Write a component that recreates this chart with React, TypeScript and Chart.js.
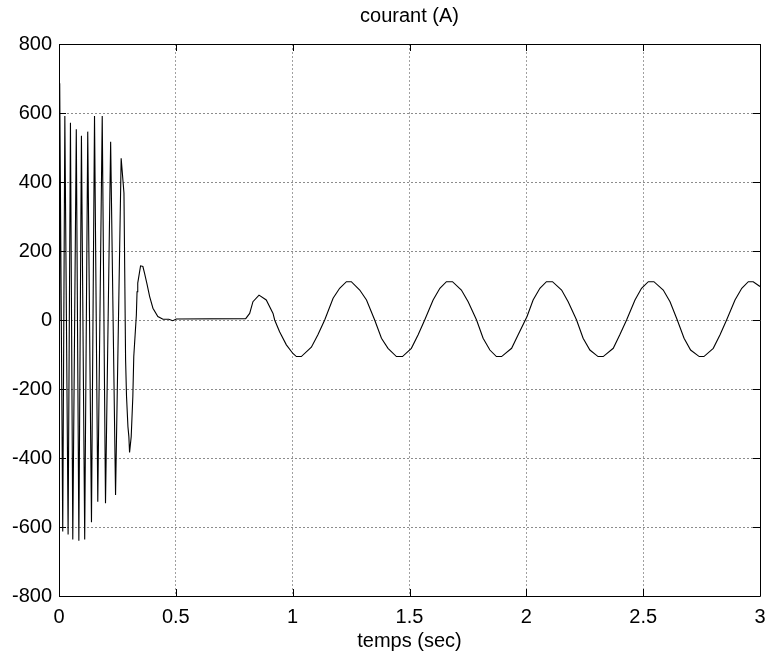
import React, { useEffect, useRef } from "react";
import { Chart, registerables } from "chart.js";

Chart.register(...registerables);

// time (s)
const timeValues: number[] = [
  0.000, 0.003, 0.016, 0.025, 0.039, 0.049, 0.059, 0.074, 0.085, 0.096,
  0.110, 0.123, 0.139, 0.152, 0.166, 0.185, 0.199, 0.221, 0.242, 0.266,
  0.278, 0.285, 0.289, 0.295, 0.299, 0.302, 0.309, 0.316, 0.320, 0.331,
  0.334, 0.337, 0.349, 0.359, 0.366, 0.376, 0.388, 0.402, 0.423, 0.445,
  0.470, 0.487, 0.502, 0.799, 0.816, 0.830, 0.856, 0.887, 0.916, 0.923,
  0.944, 0.973, 1.001, 1.016, 1.037, 1.080, 1.108, 1.137, 1.173, 1.201,
  1.230, 1.251, 1.287, 1.316, 1.351, 1.380, 1.408, 1.444, 1.470, 1.508,
  1.537, 1.565, 1.601, 1.630, 1.658, 1.684, 1.722, 1.751, 1.787, 1.815,
  1.844, 1.872, 1.894, 1.937, 1.965, 2.003, 2.029, 2.058, 2.086, 2.112,
  2.151, 2.179, 2.215, 2.243, 2.272, 2.307, 2.329, 2.372, 2.400, 2.429,
  2.465, 2.493, 2.522, 2.546, 2.586, 2.615, 2.646, 2.675, 2.703, 2.740,
  2.760, 2.800, 2.829, 2.857, 2.893, 2.922, 2.950, 2.971, 3.000,
];

// courant (A)
const currentValues: number[] = [
  0, 686, -613, 591, -622, 572, -636, 553, -640, 534,
  -636, 546, -586, 591, -527, 591, -531, 517, -507, 469,
  368, -116, -222, -309, -338, -384, -338, -222, -106, 14,
  82, 107, 157, 155, 136, 106, 68, 34, 10, 2,
  2, -2, 3, 4, 19, 53, 72, 58, 19, 0,
  -34, -72, -97, -106, -106, -79, -43, 0, 63, 92,
  111, 111, 87, 58, 0, -53, -82, -106, -106, -82,
  -43, 0, 58, 92, 111, 111, 87, 53, 0, -53,
  -87, -106, -106, -82, -43, 10, 58, 92, 111, 111,
  87, 53, 0, -53, -87, -106, -106, -82, -43, 0,
  58, 92, 111, 111, 87, 53, 0, -53, -87, -106,
  -106, -82, -43, 0, 58, 92, 111, 111, 97,
];

const xTicks: number[] = [0, 0.5, 1, 1.5, 2, 2.5, 3];
const yTicks: number[] = [-800, -600, -400, -200, 0, 200, 400, 600, 800];

const chartTitle = "courant (A)";
const xTitle = "temps (sec)";

const FONT = '"Liberation Sans", Arial, Helvetica, sans-serif';

const framePlugin = {
  id: "matlabFrame",
  afterDraw(chart: any) {
    const { ctx, chartArea: a, scales } = chart;
    const xs = scales.x;
    const ys = scales.y;
    ctx.save();
    ctx.strokeStyle = "#000";
    ctx.lineWidth = 1;
    ctx.beginPath();
    ctx.rect(Math.round(a.left) + 0.5, Math.round(a.top) + 0.5,
      Math.round(a.right) - Math.round(a.left), Math.round(a.bottom) - Math.round(a.top));
    ctx.stroke();
    const tl = 7;
    ctx.beginPath();
    xTicks.forEach((v) => {
      const px = Math.round(xs.getPixelForValue(v)) + 0.5;
      ctx.moveTo(px, a.bottom);
      ctx.lineTo(px, a.bottom - tl);
      ctx.moveTo(px, a.top);
      ctx.lineTo(px, a.top + tl);
    });
    yTicks.forEach((v) => {
      const py = Math.round(ys.getPixelForValue(v)) + 0.5;
      ctx.moveTo(a.left, py);
      ctx.lineTo(a.left + tl, py);
      ctx.moveTo(a.right, py);
      ctx.lineTo(a.right - tl, py);
    });
    ctx.stroke();
    ctx.fillStyle = "#000";
    ctx.font = `20px ${FONT}`;
    ctx.textAlign = "center";
    ctx.textBaseline = "middle";
    const cx = (a.left + a.right) / 2;
    ctx.fillText(chartTitle, cx, 16);
    ctx.fillText(xTitle, cx, 641);
    ctx.restore();
  },
};

export default function App() {
  const canvasRef = useRef<HTMLCanvasElement | null>(null);

  useEffect(() => {
    document.body.style.margin = "0";
    const canvas = canvasRef.current;
    if (!canvas) return;
    const points = timeValues.map((t, i) => ({ x: t, y: currentValues[i] }));
    const chart = new Chart(canvas, {
      type: "line",
      data: {
        datasets: [
          {
            data: points,
            borderColor: "#000",
            borderWidth: 1.1,
            pointRadius: 0,
            tension: 0,
            fill: false,
          },
        ],
      },
      options: {
        animation: false,
        responsive: false,
        devicePixelRatio: 1,
        layout: { padding: { top: 44, right: 9, left: 0, bottom: 0 } },
        plugins: {
          legend: { display: false },
          title: { display: false },
          tooltip: { enabled: false },
        },
        scales: {
          x: {
            type: "linear",
            min: 0,
            max: 3,
            afterBuildTicks: (scale: any) => {
              scale.ticks = xTicks.map((v) => ({ value: v }));
            },
            afterFit: (scale: any) => {
              scale.height = 63;
              scale.paddingLeft = 0;
              scale.paddingRight = 0;
            },
            ticks: {
              color: "#000",
              font: { family: FONT, size: 20 },
              padding: 9,
              maxRotation: 0,
              autoSkip: false,
              callback: (v: any) => String(v),
            },
            grid: {
              color: "#a0a0a0",
              lineWidth: 1,
              drawTicks: false,
            },
            border: { display: false, dash: [2, 2] },
          },
          y: {
            type: "linear",
            min: -800,
            max: 800,
            afterBuildTicks: (scale: any) => {
              scale.ticks = yTicks.map((v) => ({ value: v }));
            },
            afterFit: (scale: any) => {
              scale.width = 59;
              scale.paddingTop = 0;
              scale.paddingBottom = 0;
            },
            ticks: {
              color: "#000",
              font: { family: FONT, size: 20 },
              padding: 7,
              autoSkip: false,
              callback: (v: any) => String(v),
            },
            grid: {
              color: "#8c8c8c",
              lineWidth: 1,
              drawTicks: false,
            },
            border: { display: false, dash: [2, 2] },
          },
        },
      },
      plugins: [framePlugin],
    });
    return () => chart.destroy();
  }, []);

  return (
    <div style={{ width: 769, height: 659 }}>
      <canvas ref={canvasRef} width={769} height={659} style={{ display: "block", width: 769, height: 659 }} />
    </div>
  );
}
